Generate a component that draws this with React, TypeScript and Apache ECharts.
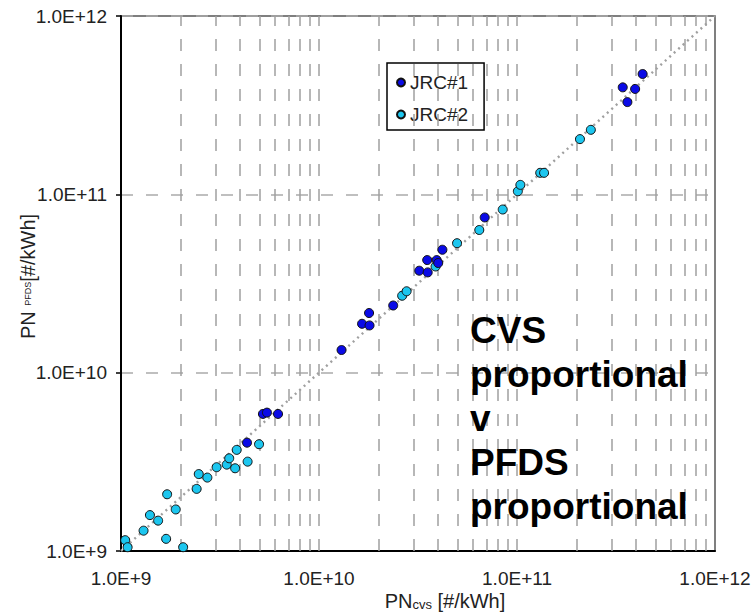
import React, { useEffect, useRef } from "react";
import * as echarts from "echarts";

// JRC#1 (dark blue) points: CVS proportional PN vs PFDS proportional PN [#/kWh]
const jrc1X = [4.33e9, 5.21e9, 5.46e9, 6.21e9, 1.30e10, 1.65e10, 1.79e10, 1.80e10, 2.37e10, 3.21e10, 3.54e10, 3.52e10, 3.93e10, 4.00e10, 4.20e10, 6.87e10, 3.42e11, 3.61e11, 3.95e11, 4.31e11];
const jrc1Y = [4.05e9, 5.87e9, 5.97e9, 5.87e9, 1.34e10, 1.88e10, 2.16e10, 1.84e10, 2.38e10, 3.73e10, 3.65e10, 4.28e10, 4.28e10, 4.12e10, 4.89e10, 7.42e10, 3.98e11, 3.29e11, 3.90e11, 4.73e11];

// JRC#2 (cyan) points
const jrc2X = [1.05e9, 1.08e9, 1.30e9, 1.40e9, 1.54e9, 1.69e9, 1.71e9, 1.89e9, 2.06e9, 2.41e9, 2.47e9, 2.73e9, 3.04e9, 3.42e9, 3.52e9, 3.77e9, 3.84e9, 4.36e9, 4.98e9, 2.63e10, 2.77e10, 3.88e10, 4.98e10, 6.45e10, 8.47e10, 1.01e11, 1.04e11, 1.31e11, 1.37e11, 2.08e11, 2.36e11];
const jrc2Y = [1.15e9, 1.05e9, 1.30e9, 1.59e9, 1.48e9, 1.17e9, 2.08e9, 1.71e9, 1.05e9, 2.23e9, 2.70e9, 2.58e9, 2.95e9, 3.05e9, 3.31e9, 2.91e9, 3.69e9, 3.17e9, 3.97e9, 2.70e10, 2.86e10, 3.94e10, 5.32e10, 6.31e10, 8.22e10, 1.04e11, 1.13e11, 1.32e11, 1.32e11, 2.04e11, 2.30e11];

// 1:1 reference line
const diagonal = [[1e9, 1e9], [1e12, 1e12]];

// axis range and vertical grid positions (log decades with 2..9 multiples)
const axisMin = 1e9;
const axisMax = 1e12;
const decades = [1e9, 1e10, 1e11];
const multiples = [2, 3, 4, 5, 6, 7, 8, 9, 10];

const annotation = "CVS\nproportional\nv\nPFDS\nproportional";

export default function App() {
  const ref = useRef<HTMLDivElement>(null);

  useEffect(() => {
    if (!ref.current) return;
    const chart = echarts.init(ref.current, undefined, { renderer: "svg" });

    const gridX: number[] = [];
    decades.forEach((d) => multiples.forEach((m) => { const v = d * m; if (v < axisMax) gridX.push(v); }));

    const fmt = (v: number) => Number(v).toExponential(1).toUpperCase();
    const font = '"Liberation Sans", Arial, sans-serif';

    chart.setOption({
      animation: false,
      backgroundColor: "#fff",
      grid: {
        left: 121,
        top: 16,
        width: 594,
        height: 535,
        show: true,
        borderColor: "#555",
        borderWidth: 1.5,
        backgroundColor: "#fff",
        containLabel: false,
        outerBoundsMode: "none",
      },
      legend: {
        orient: "vertical",
        left: 387,
        top: 63,
        itemWidth: 8,
        itemHeight: 8,
        itemGap: 13,
        padding: [10, 16, 6, 9],
        borderColor: "#000",
        borderWidth: 1.5,
        backgroundColor: "#fff",
        textStyle: { fontFamily: font, fontSize: 19, color: "#222" },
        data: ["JRC#1", "JRC#2"],
      },
      xAxis: {
        type: "log",
        logBase: 10,
        min: axisMin,
        max: axisMax,
        splitNumber: 3,
        axisLine: { show: true, lineStyle: { color: "#000", width: 2 } },
        axisTick: { show: false },
        axisLabel: { formatter: fmt, fontFamily: font, fontSize: 19, color: "#222", margin: 18 },
        splitLine: { show: false },
        name: "{a|PN}{s|cvs}{a| [#/kWh]}",
        nameLocation: "middle",
        nameGap: 40,
        nameMoveOverlap: false,
        nameTextStyle: {
          padding: [0, 0, 0, 54],
          rich: {
            a: { fontFamily: font, fontSize: 20, color: "#222", verticalAlign: "bottom", lineHeight: 20 },
            s: { fontFamily: font, fontSize: 13, color: "#222", verticalAlign: "bottom", lineHeight: 14, padding: [4, 0, 0, 0] },
          },
        },
      },
      yAxis: {
        type: "log",
        logBase: 10,
        min: axisMin,
        max: axisMax,
        splitNumber: 3,
        axisLine: { show: true, lineStyle: { color: "#000", width: 2 } },
        axisTick: { show: true, length: 5, lineStyle: { color: "#000", width: 1.5 } },
        axisLabel: { formatter: fmt, fontFamily: font, fontSize: 19, color: "#222", margin: 14 },
        splitLine: { show: true, lineStyle: { color: "#aaa", width: 1.5, type: [12, 13] } },
        name: "{a|PN }{s|PFDS}{a|[#/kWh]}",
        nameLocation: "middle",
        nameGap: 83,
        nameMoveOverlap: false,
        nameTextStyle: {
          padding: [0, 0, 0, 14],
          rich: {
            a: { fontFamily: font, fontSize: 20, color: "#222", verticalAlign: "middle" },
            s: { fontFamily: font, fontSize: 9, color: "#222", verticalAlign: "middle" },
          },
        },
      },
      series: [
        {
          type: "line",
          data: diagonal,
          showSymbol: false,
          symbol: "none",
          silent: true,
          z: 1,
          lineStyle: { color: "#a0a0a0", width: 2.4, type: [2, 4] },
          markLine: {
            silent: true,
            symbol: "none",
            label: { show: false },
            lineStyle: { color: "#a0a0a0", width: 1.5, type: [12, 13] },
            data: gridX.map((v) => ({ xAxis: v })),
          },
        },
        {
          name: "JRC#2",
          type: "scatter",
          data: jrc2X.map((x, i) => [x, jrc2Y[i]]),
          symbol: "circle",
          symbolSize: 9,
          clip: false,
          z: 5,
          itemStyle: { color: "#1cc6ef", borderColor: "#111", borderWidth: 1, opacity: 1 },
        },
        {
          name: "JRC#1",
          type: "scatter",
          data: jrc1X.map((x, i) => [x, jrc1Y[i]]),
          symbol: "circle",
          symbolSize: 9,
          clip: false,
          z: 6,
          itemStyle: { color: "#0a0ae6", borderColor: "#111", borderWidth: 1, opacity: 1 },
        },
      ],
      graphic: [
        {
          type: "text",
          left: 470,
          top: 308,
          z: 100,
          style: {
            text: annotation,
            font: 'bold 37px "Liberation Sans", Arial, sans-serif',
            lineHeight: 44,
            fill: "#000",
          },
        },
      ],
    });

    return () => chart.dispose();
  }, []);

  return (
    <div
      ref={ref}
      style={{ position: "fixed", left: 0, top: 0, width: 756, height: 613, background: "#fff" }}
    />
  );
}
